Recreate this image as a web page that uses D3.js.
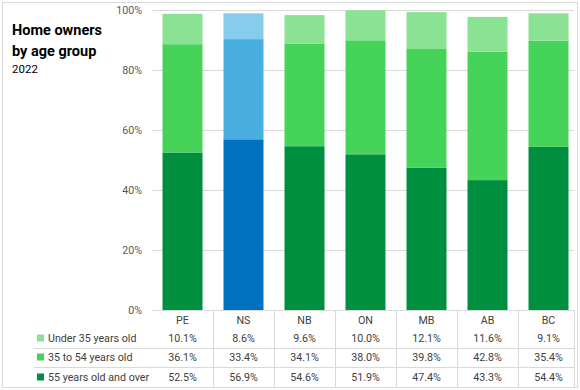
<!DOCTYPE html>
<html><head><meta charset="utf-8">
<script src="https://cdn.jsdelivr.net/npm/d3@7/dist/d3.min.js"></script>
<style>
html,body{margin:0;padding:0;background:#fff;}
text{font-family:Roboto, "Noto Sans", sans-serif;}
</style></head>
<body><svg id="c" width="580" height="390"></svg>
<script>
const categories = ["PE","NS","NB","ON","MB","AB","BC"];
const seriesNames = ["55 years old and over","35 to 54 years old","Under 35 years old"];
const over55 = [52.5,56.9,54.6,51.9,47.4,43.3,54.4];
const age35to54 = [36.1,33.4,34.1,38.0,39.8,42.8,35.4];
const under35 = [10.1,8.6,9.6,10.0,12.1,11.6,9.1];
const yTicks = [0,20,40,60,80,100];
const highlight = "NS";

const greens = ["#008F3E","#46D35A","#8AE293"];
const blues = ["#0070C0","#48AEE0","#86CCEC"];

const svg = d3.select("#c");
const x = d3.scaleBand().domain(categories).range([152,579]).paddingInner(21/61).paddingOuter(21/122);
const y = d3.scaleLinear().domain([0,100]).range([310,10]);

svg.append("rect").attr("x",2.5).attr("y",2.5).attr("width",575).attr("height",385)
  .attr("fill","none").attr("stroke","#d9d9d9");

svg.append("text").attr("x",12).attr("y",35).attr("font-size",14.5).attr("font-weight","bold").attr("fill","#000").text("Home owners");
svg.append("text").attr("x",12).attr("y",56).attr("font-size",14.5).attr("font-weight","bold").attr("fill","#000").text("by age group");
svg.append("text").attr("x",12).attr("y",73).attr("font-size",11.5).attr("fill","#000").text("2022");

svg.append("g").selectAll("line").data(yTicks).join("line")
  .attr("x1",152).attr("x2",574).attr("y1",d=>Math.round(y(d))+0.5).attr("y2",d=>Math.round(y(d))+0.5)
  .attr("stroke","#d9d9d9");

const yAxis = d3.axisLeft(y).tickValues(yTicks).tickFormat(d=>d+"%").tickSize(0).tickPadding(0);
const gy = svg.append("g").attr("transform","translate(142,0)").call(yAxis);
gy.select(".domain").remove();
gy.selectAll("text").attr("font-size",10.7).attr("fill","#595959").attr("font-family","Roboto, 'Noto Sans', sans-serif");

const data = categories.map((c,i)=>({cat:c, s0:over55[i], s1:age35to54[i], s2:under35[i]}));
const stack = d3.stack().keys(["s0","s1","s2"])(data);
stack.forEach((layer,li)=>{
  svg.append("g").selectAll("rect").data(layer).join("rect")
    .attr("x",d=>x(d.data.cat)).attr("width",x.bandwidth())
    .attr("y",d=>y(d[1])).attr("height",d=>y(d[0])-y(d[1]))
    .attr("fill",d=>d.data.cat===highlight?blues[li]:greens[li]);
});

const rowsY = [342,361,381];
const lineYs = [348,367];
const tbl = svg.append("g");
const bounds = categories.map(c=>x(c)-(x.step()-x.bandwidth())/2);
tbl.selectAll("line.v").data(bounds.slice(1).concat([574])).join("line")
  .attr("x1",d=>Math.round(d)+0.5).attr("x2",d=>Math.round(d)+0.5).attr("y1",310).attr("y2",387)
  .attr("stroke","#d9d9d9");
tbl.selectAll("line.h").data(lineYs).join("line")
  .attr("x1",34).attr("x2",574).attr("y1",d=>d+0.5).attr("y2",d=>d+0.5).attr("stroke","#d9d9d9");
svg.append("line").attr("x1",152).attr("x2",574).attr("y1",310.5).attr("y2",310.5).attr("stroke","#d9d9d9");

tbl.selectAll("text.h").data(categories).join("text")
  .attr("x",d=>x(d)+x.bandwidth()/2).attr("y",324).attr("text-anchor","middle")
  .attr("font-size",10.7).attr("fill","#404040").text(d=>d);

const rowVals = [under35, age35to54, over55];
const rowNames = [seriesNames[2], seriesNames[1], seriesNames[0]];
const rowColors = [greens[2], greens[1], greens[0]];
rowVals.forEach((vals,ri)=>{
  const ty = rowsY[ri];
  tbl.append("rect").attr("x",37).attr("y",ty-7.5).attr("width",7).attr("height",7).attr("fill",rowColors[ri]);
  tbl.append("text").attr("x",48).attr("y",ty).attr("font-size",10.7).attr("fill","#404040").text(rowNames[ri]);
  tbl.selectAll(null).data(vals).join("text")
    .attr("x",(d,i)=>x(categories[i])+x.bandwidth()/2).attr("y",ty).attr("text-anchor","middle")
    .attr("font-size",10.7).attr("fill","#404040").text(d=>d.toFixed(1)+"%");
});
</script></body></html>
